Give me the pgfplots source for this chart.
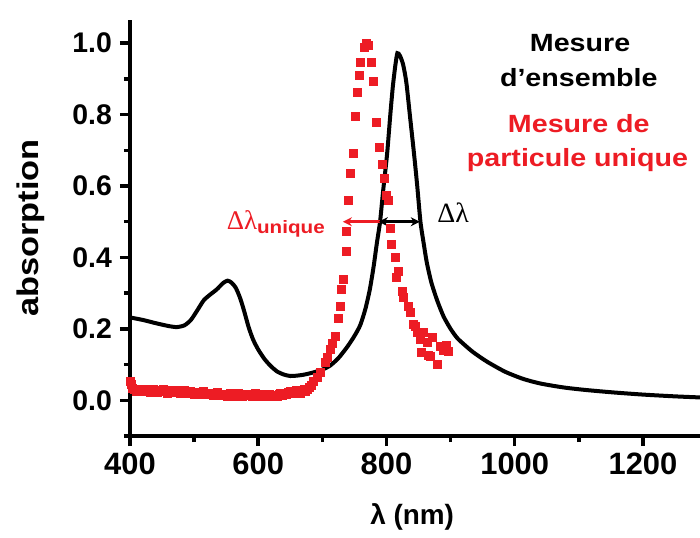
\documentclass[border=0pt]{standalone}
\usepackage{fontspec}
\setmainfont{Liberation Sans}
\newfontfamily\annot{Liberation Sans}[FakeStretch=1.15]
\newfontfamily\symf{Liberation Serif}
\usepackage{pgfplots}
\pgfplotsset{compat=1.18}
\usetikzlibrary{arrows.meta}
\definecolor{myred}{RGB}{237,28,36}

\pgfplotstableread{
x y
400 0.232
420 0.225
440 0.216
460 0.208
473 0.205
485 0.210
495 0.225
505 0.252
515 0.280
525 0.296
535 0.310
545 0.328
552 0.335
558 0.330
565 0.315
572 0.285
578 0.250
585 0.205
592 0.170
600 0.142
610 0.115
620 0.095
630 0.080
640 0.072
650 0.068
660 0.069
672 0.072
686 0.078
700 0.086
712 0.097
725 0.118
739 0.150
750 0.180
759 0.210
767 0.255
774 0.310
780 0.375
785 0.440
790 0.500
795 0.590
801 0.690
806 0.800
810 0.880
814 0.940
817 0.972
821 0.965
826 0.940
831 0.890
837 0.790
843 0.690
848 0.600
853 0.500
858 0.440
863 0.385
870 0.330
879 0.280
889 0.235
900 0.200
910 0.175
920 0.158
935 0.135
957 0.108
985 0.080
1013 0.060
1040 0.047
1076 0.036
1110 0.029
1154 0.022
1200 0.016
1250 0.011
1289 0.008
}\ensemble

\pgfplotstableread{
x y
400 0.052
402 0.045
404 0.035
407 0.030
410 0.025
413 0.028
416 0.032
419 0.026
422 0.024
425 0.030
428 0.027
431 0.023
434 0.027
437 0.030
440 0.025
443 0.022
446 0.028
449 0.026
452 0.030
455 0.024
458 0.021
461 0.026
464 0.029
467 0.024
470 0.022
473 0.027
476 0.025
479 0.020
482 0.023
485 0.027
488 0.022
491 0.019
494 0.024
497 0.021
500 0.018
503 0.023
506 0.020
509 0.017
512 0.022
515 0.025
518 0.019
521 0.016
524 0.021
527 0.018
530 0.015
533 0.019
536 0.022
539 0.017
542 0.014
545 0.018
548 0.015
551 0.012
554 0.017
557 0.020
560 0.014
563 0.012
566 0.016
569 0.019
572 0.013
575 0.011
578 0.016
581 0.014
584 0.018
587 0.013
590 0.011
593 0.015
596 0.019
599 0.014
602 0.012
605 0.016
608 0.013
611 0.010
614 0.015
617 0.018
620 0.013
623 0.011
626 0.014
629 0.012
632 0.016
635 0.019
638 0.015
641 0.020
644 0.017
647 0.022
650 0.025
653 0.020
656 0.023
659 0.028
662 0.024
665 0.021
668 0.027
671 0.030
674 0.026
677 0.031
680 0.036
683 0.042
686 0.053
692 0.065
697 0.078
704 0.106
708 0.120
712 0.142
716 0.160
720 0.180
725 0.229
728 0.263
730 0.310
733 0.338
737 0.418
738 0.473
741 0.559
744 0.637
748 0.693
751 0.796
754 0.863
757 0.911
759 0.947
765 0.990
768 1.000
771 0.994
776 0.947
779 0.894
784 0.779
789 0.709
793 0.660
796 0.623
799 0.575
802 0.560
806 0.483
808 0.436
813 0.400
816 0.344
818 0.360
824 0.305
826 0.288
834 0.263
837 0.246
842 0.212
845 0.207
848 0.190
852 0.170
855 0.134
857 0.190
863 0.162
865 0.125
868 0.123
871 0.176
879 0.100
884 0.151
889 0.140
894 0.155
897 0.137
}\unique

\begin{document}
\begin{tikzpicture}
\begin{axis}[
  scale only axis, width=570bp, height=416bp,
  xmin=400, xmax=1289, ymin=-0.1, ymax=1.065,
  axis x line*=bottom, axis y line*=left,
  every outer x axis line/.append style={line width=3.5bp, black},
  every outer y axis line/.append style={line width=3.5bp, black},
  every inner x axis line/.append style={line width=3.5bp, black},
  every inner y axis line/.append style={line width=3.5bp, black},
  xtick={400,600,800,1000,1200}, minor xtick={500,700,900,1100},
  ytick={0,0.2,0.4,0.6,0.8,1.0}, minor ytick={-0.1,0.1,0.3,0.5,0.7,0.9},
  tick align=outside, major tick length=10bp, minor tick length=6bp,
  every tick/.append style={line width=3.5bp, black},
  every major tick/.append style={line width=3.5bp, black},
  every minor tick/.append style={line width=3.5bp, black},
  /pgf/number format/assume math mode=true,
  x tick label style={font=\bfseries\fontsize{31}{31}\selectfont, inner sep=0pt, yshift=-7bp, /pgf/number format/1000 sep={}},
  y tick label style={font=\bfseries\fontsize{28.5}{28.5}\selectfont, inner sep=0pt, xshift=-8bp, /pgf/number format/.cd, fixed, fixed zerofill, precision=1},
  xlabel={λ (nm)}, ylabel={\annot absorption},
  xlabel style={font=\bfseries\fontsize{28}{28}\selectfont, at={(axis description cs:0.495,-0.195)}, anchor=center},
  ylabel style={font=\bfseries\fontsize{30}{30}\selectfont, at={(axis description cs:-0.1737,0.5)}, anchor=center},
]
\coordinate (SW) at (rel axis cs:0,0);
\coordinate (NE) at (rel axis cs:1,1);
\addplot[black, line width=4bp, smooth, tension=0.4] table {\ensemble};
\addplot[only marks, mark=square*, mark size=4bp, myred, mark options={draw=myred, fill=myred, line width=0.5bp}] table {\unique};
\draw[myred, line width=2.5bp, {Stealth[length=9bp,width=9bp]}-] (axis cs:732,0.5) -- (axis cs:790,0.5);
\draw[black, line width=2.5bp, {Stealth[length=9bp,width=9bp]}-{Stealth[length=9bp,width=9bp]}] (axis cs:788,0.5) -- (axis cs:852,0.5);
\node[font=\symf\fontsize{28}{28}\selectfont] at (axis cs:904,0.525) {Δλ};
\node[anchor=base east, myred, inner sep=0pt] at (axis cs:704,0.478) {{\symf\fontsize{27}{27}\selectfont Δλ}{\annot\bfseries\fontsize{18}{18}\selectfont\raisebox{-4bp}{unique}}};
\node[font=\annot\bfseries\fontsize{25}{25}\selectfont] at (axis cs:1102,1.0) {Mesure};
\node[font=\annot\bfseries\fontsize{25}{25}\selectfont] at (axis cs:1100,0.905) {d’ensemble};
\node[font=\annot\bfseries\fontsize{25}{25}\selectfont, myred] at (axis cs:1100,0.774) {Mesure de};
\node[font=\annot\bfseries\fontsize{25}{25}\selectfont, myred] at (axis cs:1098,0.673) {particule unique};
\end{axis}
\pgfresetboundingbox
\path[use as bounding box] ([xshift=-130bp,yshift=-102bp]SW) rectangle ([yshift=20bp]NE);
\end{tikzpicture}
\end{document}
